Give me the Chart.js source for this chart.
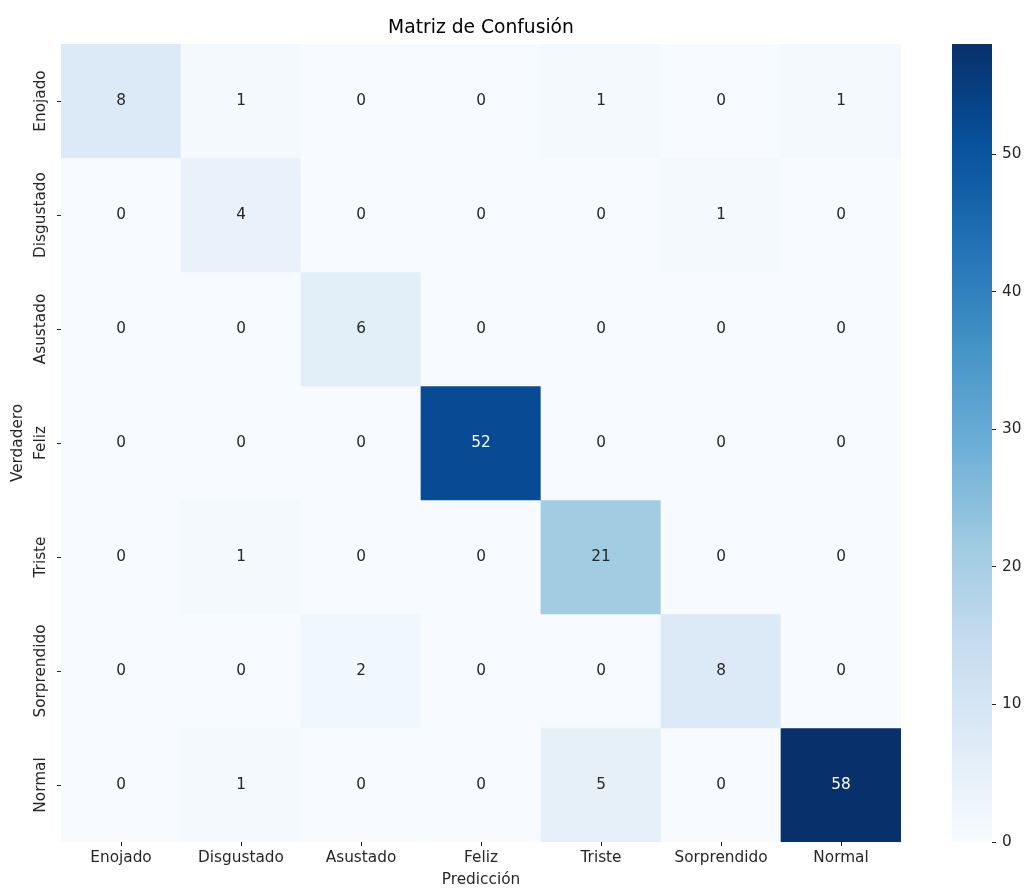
<!DOCTYPE html>
<html><head><meta charset="utf-8">
<script src="https://cdn.jsdelivr.net/npm/chart.js@4.4.1/dist/chart.umd.min.js"></script>
<style>
html,body{margin:0;padding:0;background:#fff;}
#wrap{position:relative;width:1025px;height:888px;}
#main{position:absolute;left:0;top:0;}
#cbar{position:absolute;left:930px;top:0;}
</style></head><body>
<div id="wrap"><canvas id="main" width="930" height="888"></canvas><canvas id="cbar" width="95" height="888"></canvas></div>
<script>
// ---- data ----
const categories = ['Enojado','Disgustado','Asustado','Feliz','Triste','Sorprendido','Normal'];
const rowEnojado     = [8, 1, 0, 0, 1, 0, 1];
const rowDisgustado  = [0, 4, 0, 0, 0, 1, 0];
const rowAsustado    = [0, 0, 6, 0, 0, 0, 0];
const rowFeliz       = [0, 0, 0, 52, 0, 0, 0];
const rowTriste      = [0, 1, 0, 0, 21, 0, 0];
const rowSorprendido = [0, 0, 2, 0, 0, 8, 0];
const rowNormal      = [0, 1, 0, 0, 5, 0, 58];
const colorbarTicks  = [0, 10, 20, 30, 40, 50];
const vmin = 0, vmax = 58;
const titleText = 'Matriz de Confusión';
const xTitle = 'Predicción';
const yTitle = 'Verdadero';

const rows = [rowEnojado,rowDisgustado,rowAsustado,rowFeliz,rowTriste,rowSorprendido,rowNormal];

// ---- Blues colormap ----
const bluesStops = ['#f7fbff','#deebf7','#c6dbef','#9ecae1','#6baed6','#4292c6','#2171b5','#08519c','#08306b'];
function hexRgb(h){return [parseInt(h.slice(1,3),16),parseInt(h.slice(3,5),16),parseInt(h.slice(5,7),16)];}
function blues(v){
  let t = (v - vmin) / (vmax - vmin); t = Math.max(0, Math.min(1, t));
  const p = t * (bluesStops.length - 1);
  const i = Math.min(Math.floor(p), bluesStops.length - 2);
  const f = p - i;
  const a = hexRgb(bluesStops[i]), b = hexRgb(bluesStops[i+1]);
  const c = a.map((x,k)=>Math.round(x + (b[k]-x)*f));
  return 'rgb(' + c.join(',') + ')';
}
function lum(v){
  const m = blues(v).match(/\d+/g).map(Number).map(x=>{x/=255;return x<=0.03928?x/12.92:Math.pow((x+0.055)/1.055,2.4);});
  return 0.2126*m[0]+0.7152*m[1]+0.0722*m[2];
}

const FS = 15.3;
Chart.defaults.font.family = "'DejaVu Sans', sans-serif";
Chart.defaults.font.size = FS;
Chart.defaults.color = '#262626';

const annotPlugin = {
  id: 'annot',
  afterDatasetsDraw(chart){
    const ctx = chart.ctx, xs = chart.scales.x, ys = chart.scales.y, area = chart.chartArea;
    ctx.save();
    ctx.font = FS + "px 'DejaVu Sans', sans-serif";
    ctx.textAlign = 'center'; ctx.textBaseline = 'middle';
    rows.forEach((row, i) => {
      row.forEach((v, j) => {
        ctx.fillStyle = lum(v) > 0.408 ? '#262626' : '#ffffff';
        ctx.fillText(String(v), xs.getPixelForValue(j), ys.getPixelForValue(i + 0.5));
      });
    });
    // y tick labels, rotated
    ctx.fillStyle = '#262626';
    categories.forEach((c, i) => {
      ctx.save();
      ctx.translate(41, ys.getPixelForValue(i + 0.5));
      ctx.rotate(-Math.PI/2);
      ctx.fillText(c, 0, 0);
      ctx.restore();
    });
    // title centred over the heatmap
    ctx.fillStyle = '#000';
    ctx.font = "18.7px 'DejaVu Sans', sans-serif";
    ctx.fillText(titleText, (area.left + area.right) / 2, 28);
    ctx.restore();
  }
};

new Chart(document.getElementById('main'), {
  type: 'bar',
  data: {
    labels: categories,
    datasets: rows.map((row, i) => ({
      label: categories[i],
      data: row.map(() => [i, i + 1]),
      backgroundColor: row.map(v => blues(v)),
      borderWidth: 0,
      grouped: false,
      barPercentage: 1,
      categoryPercentage: 1
    }))
  },
  options: {
    responsive: false,
    animation: false,
    devicePixelRatio: 1,
    layout: { padding: { left: 0, right: 29, top: 44, bottom: 0 } },
    plugins: {
      legend: { display: false },
      tooltip: { enabled: false },
      title: { display: false }
    },
    scales: {
      x: {
        type: 'category',
        grid: { drawOnChartArea: false, drawTicks: true, tickLength: 4, offset: false, color: '#262626' },
        border: { display: false },
        ticks: { padding: 3, maxRotation: 0, minRotation: 0, color: '#262626' },
        title: { display: true, text: xTitle, color: '#262626', font: { size: FS, lineHeight: 1.0 }, padding: { top: 0, bottom: 0 } },
        afterFit(s){ s.height = 46; }
      },
      y: {
        type: 'linear', min: 0, max: 7, reverse: true,
        afterBuildTicks(axis){ axis.ticks = categories.map((c, i) => ({ value: i + 0.5 })); },
        grid: { drawOnChartArea: false, drawTicks: true, tickLength: 4, color: '#262626' },
        border: { display: false },
        ticks: { display: false },
        title: { display: true, text: yTitle, color: '#262626', font: { size: FS, lineHeight: 1.2 }, padding: { top: 9, bottom: 0 } },
        afterFit(s){ s.width = 61; }
      }
    }
  },
  plugins: [annotPlugin]
});

// ---- colorbar ----
new Chart(document.getElementById('cbar'), {
  type: 'bar',
  data: {
    labels: ['cb'],
    datasets: [{
      data: [[vmin, vmax]],
      backgroundColor(ctx){
        const area = ctx.chart.chartArea;
        if (!area) return bluesStops[0];
        const g = ctx.chart.ctx.createLinearGradient(0, area.bottom, 0, area.top);
        bluesStops.forEach((c, k) => g.addColorStop(k / (bluesStops.length - 1), c));
        return g;
      },
      borderWidth: 0,
      barPercentage: 1,
      categoryPercentage: 1
    }]
  },
  options: {
    responsive: false,
    animation: false,
    devicePixelRatio: 1,
    layout: { padding: { left: 22, right: 0, top: 44, bottom: 46 } },
    plugins: { legend: { display: false }, tooltip: { enabled: false } },
    scales: {
      x: { display: false },
      y: {
        position: 'right', min: vmin, max: vmax,
        afterBuildTicks(axis){ axis.ticks = colorbarTicks.map(v => ({ value: v })); },
        grid: { drawOnChartArea: false, drawTicks: true, tickLength: 4, color: '#262626' },
        border: { display: false },
        ticks: { padding: 6, color: '#262626' },
        afterFit(s){ s.width = 33; }
      }
    }
  }
});
</script>
</body></html>
